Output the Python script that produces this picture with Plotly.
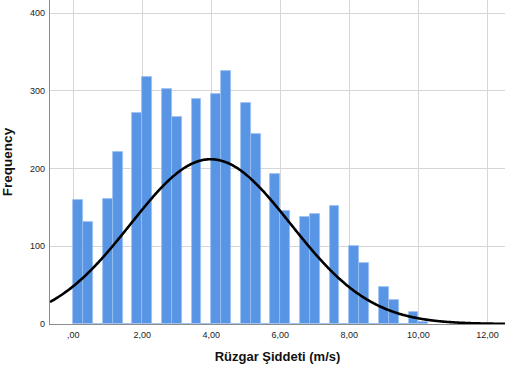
import numpy as np
import plotly.graph_objects as go

# ---- data ----
bin_width = 0.2857
bin_index = list(range(36))
frequency = [160, 131, 0, 161, 222, 0, 271, 318, 0, 303, 266, 0,
             289, 0, 296, 326, 0, 284, 244, 0, 193, 146, 0, 138,
             142, 0, 152, 0, 100, 78, 0, 47, 31, 0, 15, 3]
x_tick_vals = [0, 2, 4, 6, 8, 10, 12]
x_tick_text = [",00", "2,00", "4,00", "6,00", "8,00", "10,00", "12,00"]
y_tick_vals = [0, 100, 200, 300, 400]
y_tick_text = ["0", "100", "200", "300", "400"]
fit_mean = 3.98
fit_std = 2.32
n_total = sum(frequency)

centers = [(k + 0.5) * bin_width for k in bin_index]

x_range = [-0.675, 12.51]
y_range = [0, 417]

xs = np.linspace(x_range[0], x_range[1], 400)
ys = n_total * bin_width / (fit_std * np.sqrt(2 * np.pi)) * np.exp(-0.5 * ((xs - fit_mean) / fit_std) ** 2)

fig = go.Figure()
fig.add_trace(go.Bar(
    x=centers, y=frequency, width=bin_width,
    marker=dict(color="#5895E4", line=dict(color="#9CC0F0", width=0.8)),
    hoverinfo="x+y", showlegend=False,
))
fig.add_trace(go.Scatter(
    x=xs, y=ys, mode="lines",
    line=dict(color="black", width=2.6, shape="spline"),
    showlegend=False, hoverinfo="skip",
))

font_family = "Liberation Sans, Arial, sans-serif"
fig.update_layout(
    width=505, height=372,
    margin=dict(l=50, r=0, t=0, b=48),
    paper_bgcolor="white", plot_bgcolor="white",
    font=dict(family=font_family, color="#222"),
    bargap=0,
)
fig.update_xaxes(
    range=x_range, tickvals=x_tick_vals, ticktext=x_tick_text,
    tickfont=dict(size=9, color="#222"),
    showgrid=True, gridcolor="#d6d6d6", gridwidth=1,
    showline=True, linecolor="#8c8c8c", linewidth=1.3,
    zeroline=False, ticks="", ticklabelstandoff=2,
    title=dict(text="<b>Rüzgar Şiddeti (m/s)</b>", font=dict(size=13, color="#111"), standoff=12),
    automargin=False,
)
fig.update_yaxes(
    range=y_range, tickvals=y_tick_vals, ticktext=y_tick_text,
    tickfont=dict(size=9, color="#222"),
    showgrid=True, gridcolor="#d6d6d6", gridwidth=1,
    showline=True, linecolor="#8c8c8c", linewidth=1.3,
    zeroline=False, ticks="", ticklabelstandoff=2,
    title=dict(text="<b>Frequency</b>", font=dict(size=13.5, color="#111"), standoff=17),
    automargin=False,
)
fig.write_html(
    "out.html",
    config={"displayModeBar": False},
    post_script="document.body.style.margin='0';document.body.style.overflow='hidden';",
)
